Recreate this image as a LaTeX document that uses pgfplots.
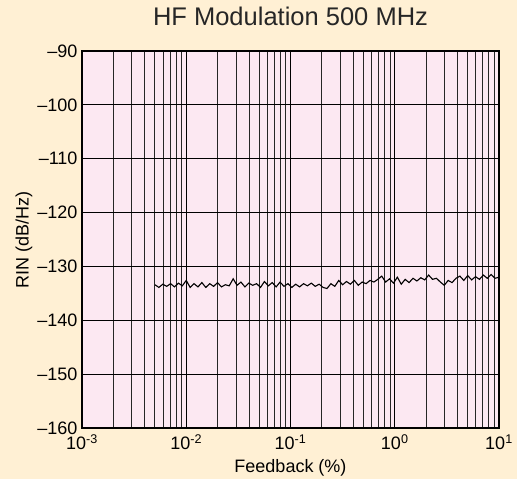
\documentclass[border=0pt]{standalone}
\usepackage{pgfplots}
\pgfplotsset{compat=1.18}
\usepackage{pgfplotstable}
\usepackage{fontspec}
\setmainfont{Liberation Sans}
\definecolor{bgtan}{RGB}{255,240,212}
\definecolor{plotpink}{RGB}{252,232,242}
\pgfplotstableread{
lx y
-2.3000 -133.4
-2.2625 -133.9
-2.2250 -133.3
-2.1875 -133.7
-2.1500 -133.2
-2.1125 -133.8
-2.0750 -133.1
-2.0375 -133.6
-2.0000 -132.6
-1.9625 -133.9
-1.9250 -133.2
-1.8875 -133.8
-1.8500 -133.0
-1.8125 -133.9
-1.7750 -133.2
-1.7375 -133.7
-1.7000 -133.0
-1.6625 -133.8
-1.6250 -133.4
-1.5875 -133.6
-1.5500 -132.3
-1.5125 -133.5
-1.4750 -132.9
-1.4375 -133.8
-1.4000 -133.1
-1.3625 -133.5
-1.3250 -133.2
-1.2875 -133.9
-1.2500 -132.8
-1.2125 -133.6
-1.1750 -133.0
-1.1375 -133.8
-1.1000 -132.9
-1.0625 -133.7
-1.0250 -133.2
-0.9875 -133.9
-0.9500 -133.3
-0.9125 -133.8
-0.8750 -133.2
-0.8375 -133.6
-0.8000 -133.1
-0.7625 -133.7
-0.7250 -133.3
-0.6875 -133.9
-0.6500 -134.1
-0.6125 -133.2
-0.5750 -133.7
-0.5375 -132.6
-0.5000 -133.4
-0.4625 -132.8
-0.4250 -133.3
-0.3875 -132.6
-0.3500 -133.5
-0.3125 -132.9
-0.2750 -133.2
-0.2375 -132.6
-0.2000 -132.9
-0.1625 -132.4
-0.1250 -131.8
-0.0875 -132.9
-0.0500 -132.3
-0.0125 -133.1
0.0250 -132.0
0.0625 -133.3
0.1000 -132.4
0.1375 -133.0
0.1750 -132.2
0.2125 -132.7
0.2500 -132.1
0.2875 -132.5
0.3250 -131.6
0.3625 -132.4
0.4000 -132.2
0.4375 -132.9
0.4750 -133.5
0.5125 -132.6
0.5500 -133.0
0.5875 -132.2
0.6250 -131.8
0.6625 -132.6
0.7000 -131.7
0.7375 -132.5
0.7750 -131.9
0.8125 -132.4
0.8500 -131.6
0.8875 -132.2
0.9250 -131.5
0.9625 -132.2
1.0000 -132.0
}\datatable
\begin{document}
\begin{tikzpicture}
\fill[bgtan] (-82bp,-51bp) rectangle (435bp,428bp);
\begin{axis}[
  at={(0,0)}, anchor=south west,
  scale only axis,
  width=417bp, height=377bp,
  xmode=log,
  xmin=1e-3, xmax=10,
  ymin=-160, ymax=-90,
  axis background/.style={fill=plotpink},
  xtick={1e-3,1e-2,1e-1,1,10},
  xticklabels={10\textsuperscript{-3},10\textsuperscript{-2},10\textsuperscript{-1},10\textsuperscript{0},10\textsuperscript{1}},
  ytick={-160,-150,-140,-130,-120,-110,-100,-90},
  yticklabels={\textendash160,\textendash150,\textendash140,\textendash130,\textendash120,\textendash110,\textendash100,\textendash90},
  xmajorgrids, xminorgrids, ymajorgrids,
  major grid style={black, line width=0.8bp},
  minor grid style={black!85, line width=0.8bp},
  major tick length=0pt, minor tick length=0pt,
  axis line style={black, line width=1.2bp},
  ticklabel style={font=\fontsize{18bp}{20bp}\selectfont},
  xticklabel style={yshift=-3bp},
  yticklabel style={xshift=-1bp},
  title={HF Modulation 500 MHz},
  title style={font=\fontsize{25.5bp}{28bp}\selectfont, at={(axis description cs:0.5,1)}, anchor=base, yshift=20bp, text=black!85},
  xlabel={Feedback (\%)},
  xlabel style={font=\fontsize{18bp}{20bp}\selectfont, at={(axis description cs:0.5,0)}, anchor=base, yshift=-44.7bp},
  ylabel={RIN (dB/Hz)},
  ylabel style={font=\fontsize{18bp}{20bp}\selectfont, at={(axis description cs:0,0.5)}, anchor=center, yshift=58bp},
]
\addplot[black, line width=1.1bp, mark=none] table[x expr={10^(\thisrow{lx})}, y=y] {\datatable};
\end{axis}
\end{tikzpicture}
\end{document}
